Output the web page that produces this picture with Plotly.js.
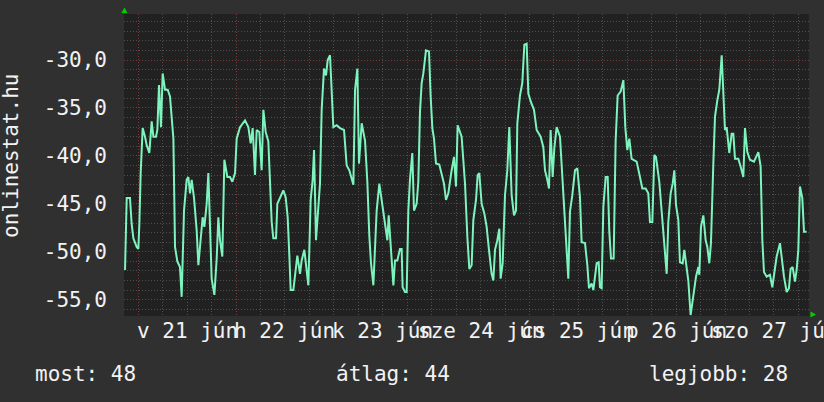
<!DOCTYPE html>
<html><head><meta charset="utf-8">
<script src="https://cdn.plot.ly/plotly-3.0.1.min.js"></script>
<style>html,body{margin:0;padding:0;background:#303030;}#chart{width:824px;height:402px;}</style>
</head><body><div id="chart"></div>
<script>
// hours since 21 June 00:00
const hours = [-3.26,-2.85,-2.04,-1.63,-1.21,-0.40,0.01,0.26,0.58,1.07,1.65,2.06,2.71,3.28,3.70,4.35,4.67,5.08,5.57,5.98,6.56,7.21,7.78,8.19,8.61,9.01,9.58,10.23,10.64,11.22,11.87,12.28,12.69,13.10,13.68,14.33,14.74,15.14,15.79,16.21,16.78,17.19,17.60,18.00,18.67,19.24,19.64,20.05,20.62,21.12,21.85,22.50,23.08,23.74,24.14,24.96,26.19,27.01,27.58,28.07,28.64,29.05,29.70,30.27,30.69,31.26,31.91,32.32,32.73,33.14,33.80,34.12,34.78,35.60,36.17,36.66,37.07,37.39,38.05,38.46,39.03,39.68,40.09,40.75,41.73,41.97,42.30,42.79,43.13,43.61,44.19,44.59,45.00,45.58,46.07,46.48,47.05,47.45,47.87,48.69,49.50,50.49,51.14,51.79,52.78,53.19,53.76,54.16,54.82,55.64,56.21,56.70,57.11,57.69,58.10,58.50,59.15,60.14,60.71,61.12,61.45,61.94,62.60,63.00,63.57,
64.22,64.63,64.87,65.45,65.86,66.27,66.67,67.24,67.66,68.31,68.72,69.13,69.54,69.95,70.60,71.34,71.75,72.16,72.57,73.06,73.87,74.44,75.02,75.51,76.08,76.90,77.48,77.97,78.37,79.35,80.18,80.75,81.24,81.81,82.22,82.88,83.28,83.69,84.26,84.92,85.49,86.06,86.71,87.13,87.54,88.11,88.60,88.92,89.42,89.99,90.56,91.05,91.62,92.20,92.69,93.02,93.67,94.24,94.74,95.31,95.72,96.37,97.11,97.76,98.74,99.40,99.81,100.38,100.79,101.19,101.69,102.10,102.67,103.49,104.06,104.55,105.12,105.53,105.94,106.51,107.17,107.74,108.39,108.80,109.63,110.20,110.60,111.26,111.67,112.49,112.98,113.30,113.71,114.13,114.70,115.19,115.59,116.01,116.66,117.15,117.64,118.37,119.04,119.52,120.01,120.50,121.07,122.30,122.87,123.70,124.51,125.16,125.57,126.15,126.64,127.05,127.86,128.69,129.26,129.67,130.07,130.65,131.14,131.55,131.96,132.53,132.93,133.60,134.00,134.41,134.98,135.55,136.21,136.87,137.44,137.68,138.09,138.67,139.24,139.65,140.13,140.54,141.12,141.53,142.10,142.59,143.17,143.58,143.98,144.39,145.04,145.61,146.03,146.44,147.25,147.82,148.48,148.89,149.46,150.11,151.10,152.16,152.73,153.15,153.55,154.21,155.02,155.59,156.01,156.66,157.48,157.88,158.46,159.12,159.69,160.09,160.59,161.16,161.57,161.98,162.38,162.96,163.37,164.02];
const values = [-51.9,-44.4,-44.4,-47.1,-48.6,-49.5,-49.7,-47.1,-41.8,-37.1,-38.0,-38.9,-39.7,-36.4,-38.0,-38.0,-37.3,-32.6,-37.0,-31.4,-33.1,-33.1,-33.8,-35.9,-38.2,-49.5,-51.0,-51.6,-54.7,-45.7,-42.5,-42.2,-43.9,-42.5,-44.4,-47.8,-51.4,-49.5,-46.4,-47.4,-45.0,-41.8,-47.1,-52.8,-54.5,-50.7,-46.4,-48.8,-50.5,-40.4,-42.2,-42.2,-42.7,-41.8,-38.2,-37.0,-36.3,-37.0,-38.7,-37.1,-42.0,-37.3,-37.5,-41.5,-35.2,-37.5,-38.5,-42.5,-46.9,-48.6,-48.6,-45.0,-44.3,-43.6,-44.3,-46.4,-50.4,-54.0,-54.0,-52.6,-50.4,-52.3,-50.9,-49.8,-53.5,-49.8,-44.6,-42.5,-39.4,-48.8,-45.7,-42.9,-35.2,-30.9,-31.6,-30.0,-29.5,-33.1,-37.0,-36.8,-37.1,-37.3,-41.0,-41.5,-43.0,-33.1,-30.9,-40.8,-36.6,-38.4,-42.7,-48.4,-51.2,-53.5,-48.4,-45.7,-42.9,-45.7,-47.8,-48.8,-46.2,-49.3,-53.5,-50.9,-50.9,
-49.7,-49.7,-53.7,-54.2,-54.2,-45.7,-42.5,-39.7,-45.7,-45.0,-42.7,-35.4,-32.4,-31.4,-29.0,-29.1,-33.8,-37.1,-38.2,-40.8,-40.9,-41.8,-42.9,-44.6,-43.9,-41.5,-40.1,-43.2,-36.8,-38.0,-42.9,-48.4,-51.8,-51.4,-46.7,-44.6,-42.0,-41.8,-45.0,-46.0,-47.4,-49.8,-52.3,-53.0,-49.8,-48.8,-47.6,-52.8,-51.2,-44.1,-41.5,-37.0,-44.1,-46.2,-45.7,-36.6,-33.7,-32.4,-28.4,-28.3,-33.5,-34.4,-35.2,-37.3,-38.0,-39.1,-41.5,-42.5,-43.4,-37.3,-42.2,-39.2,-37.0,-38.0,-42.0,-46.0,-50.5,-52.8,-45.8,-44.1,-41.5,-41.3,-44.3,-49.0,-49.1,-51.4,-53.8,-53.3,-54.0,-51.2,-51.1,-53.7,-53.8,-45.3,-42.2,-42.2,-47.9,-50.7,-50.7,-38.4,-33.7,-33.3,-32.1,-37.0,-39.4,-38.2,-40.3,-40.6,-41.7,-43.4,-43.4,-43.9,-46.9,-46.9,-39.9,-40.1,-42.7,-47.1,-50.4,-52.3,-46.9,-43.9,-42.9,-41.5,-45.1,-46.7,-51.1,-51.2,-49.8,-51.2,-53.0,-56.6,-54.7,-52.6,-51.6,-52.4,-47.4,-46.2,-48.8,-49.5,-51.2,-49.1,-40.8,-35.9,-34.2,-33.1,-29.5,-34.2,-37.3,-37.0,-39.7,-37.7,-37.7,-40.3,-40.3,-41.1,-42.2,-37.1,-39.6,-40.4,-40.6,-39.6,-41.1,-48.8,-52.1,-52.6,-52.4,-53.7,-52.4,-50.5,-49.1,-50.7,-52.6,-54.2,-53.8,-51.8,-51.6,-53.1,-51.9,-49.8,-43.2,-44.4,-47.9,-47.9];

const dayNoon = [12, 36, 60, 84, 108, 132, 156];
const dayLabels = ['v 21 jún', 'h 22 jún', 'k 23 jún', 'sze 24 jún', 'cs 25 jún', 'p 26 jún', 'szo 27 jún'];
const yTickVals = [-55, -50, -45, -40, -35, -30];
const yTickText = ['-55,0', '-50,0', '-45,0', '-40,0', '-35,0', '-30,0'];
const statLabels = ['most: 48', 'átlag: 44', 'legjobb: 28'];
const yTitle = 'onlinestat.hu';

const FONT = 'DejaVu Sans Mono, monospace';
const TXT = '#f2f2f2';
const RED = '#7e3a3a';
const GREY = '#4e4e4e';
const DOT = '1px,2px';

const annotations = [];
dayNoon.forEach((h, i) => annotations.push({
  x: h, xref: 'x', y: -0.05, yref: 'paper', text: dayLabels[i], showarrow: false,
  xanchor: 'center', yanchor: 'middle', font: {family: FONT, size: 21, color: TXT}
}));
annotations.push({x: -0.133, xref: 'paper', y: -0.192, yref: 'paper', text: statLabels[0], showarrow: false,
  xanchor: 'left', yanchor: 'middle', font: {family: FONT, size: 21, color: TXT}});
annotations.push({x: 0.392, xref: 'paper', y: -0.192, yref: 'paper', text: statLabels[1], showarrow: false,
  xanchor: 'center', yanchor: 'middle', font: {family: FONT, size: 21, color: TXT}});
annotations.push({x: 0.972, xref: 'paper', y: -0.192, yref: 'paper', text: statLabels[2], showarrow: false,
  xanchor: 'right', yanchor: 'middle', font: {family: FONT, size: 21, color: TXT}});
annotations.push({x: -0.165, xref: 'paper', y: 0.53, yref: 'paper', text: yTitle, showarrow: false,
  textangle: -90, xanchor: 'center', yanchor: 'middle', font: {family: FONT, size: 21, color: TXT}});

const trace = {
  x: hours, y: values, type: 'scatter', mode: 'lines',
  line: {color: '#7df4bd', width: 2}, hoverinfo: 'skip'
};

const layout = {
  width: 824, height: 402,
  margin: {l: 124, r: 15, t: 14, b: 86, pad: 0},
  paper_bgcolor: '#303030', plot_bgcolor: '#212121',
  showlegend: false,
  font: {family: FONT, size: 21, color: TXT},
  xaxis: {
    range: [-3.51, 164.6], tickmode: 'linear', tick0: 0, dtick: 24,
    showticklabels: false, ticks: '', zeroline: false, showline: false,
    showgrid: true, gridcolor: RED, griddash: DOT, gridwidth: 1,
    minor: {tickmode: 'linear', tick0: 0, dtick: 6, showgrid: true, gridcolor: GREY, griddash: DOT, gridwidth: 1, ticks: ''}
  },
  yaxis: {
    range: [-56.7, -25.2], tickmode: 'array', tickvals: yTickVals, ticktext: yTickText,
    ticks: '', ticklabelstandoff: 16, zeroline: false, showline: false,
    tickfont: {family: FONT, size: 21, color: TXT},
    showgrid: true, gridcolor: RED, griddash: DOT, gridwidth: 1,
    minor: {tickmode: 'linear', tick0: 0, dtick: 1, showgrid: true, gridcolor: GREY, griddash: DOT, gridwidth: 1, ticks: ''}
  },
  annotations: annotations,
  shapes: [
    {type: 'path', xref: 'paper', yref: 'paper', path: 'M -0.0037 1.0033 L 0.0051 1.0033 L 0.0007 1.0215 Z',
     fillcolor: '#00d000', line: {width: 0}},
    {type: 'path', xref: 'paper', yref: 'paper', path: 'M 1.0022 0.0149 L 1.0022 -0.0050 L 1.0102 0.0050 Z',
     fillcolor: '#00d000', line: {width: 0}}
  ]
};

Plotly.newPlot('chart', [trace], layout, {staticPlot: true, displayModeBar: false});
</script>
</body></html>
